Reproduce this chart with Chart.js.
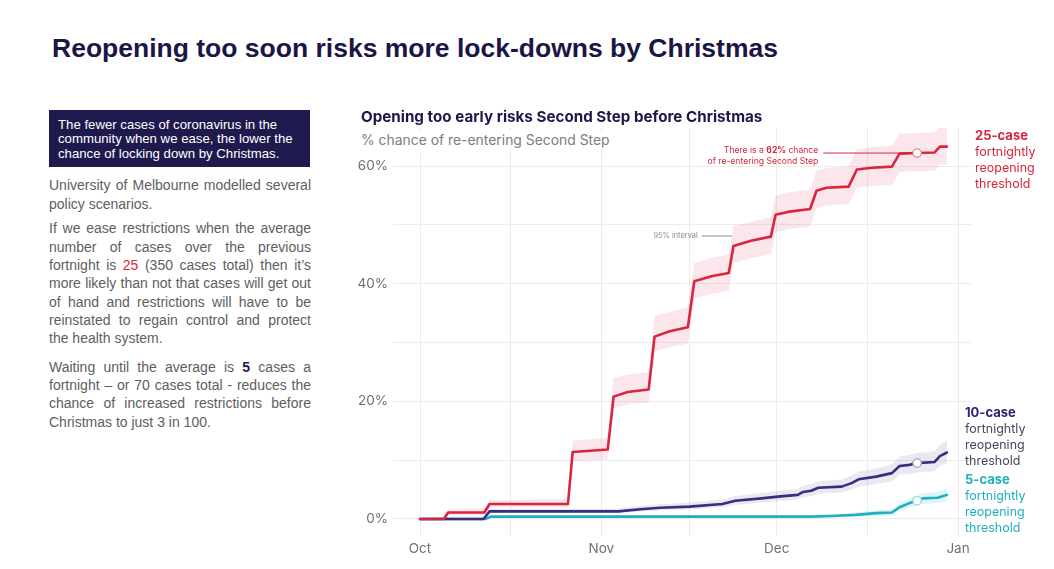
<!DOCTYPE html>
<html>
<head>
<meta charset="utf-8">
<script src="https://cdn.jsdelivr.net/npm/chart.js@4/dist/chart.umd.min.js"></script>
<style>
  html, body { margin:0; padding:0; }
  body { width:1054px; height:569px; background:#fff; position:relative; overflow:hidden; }
  .abs { position:absolute; }
  #title { left:52px; top:33px; font:bold 26.5px 'Liberation Sans', Arial, sans-serif; line-height:30px; color:#1b1646; white-space:nowrap; }
  #box { left:49px; top:110px; width:243px; height:43.5px; padding:7.5px 9px 6px 9px; background:#1f1a4d; color:#fff;
         font:13.2px 'Liberation Sans', Arial, sans-serif; line-height:14.5px; white-space:nowrap; }
  .par { left:49px; width:262px; font:14px 'Liberation Sans', Arial, sans-serif; line-height:18.3px; color:#5e5e5e; }
  .par div { text-align:justify; text-align-last:justify; }
  .par div.last { text-align-last:left; }
  .red { color:#e0203f; }
  .navy { color:#1f1a4d; font-weight:bold; }
  #ctitle { left:361px; top:107.5px; font:bold 15.2px Inter, sans-serif; line-height:18px; color:#1d1848; white-space:nowrap; }
  #csub { left:361px; top:131px; font:13.9px Inter, sans-serif; line-height:18px; color:#7d7d7d; white-space:nowrap; background:#fff; padding-right:4px; }
  .lab { font:12.5px Inter, sans-serif; line-height:16px; white-space:nowrap; }
  .lab b { font-weight:bold; font-size:13px; }
  #c { position:absolute; left:340px; top:100px; }
</style>
</head>
<body>
<div id="title" class="abs">Reopening too soon risks more lock-downs by Christmas</div>
<div id="box" class="abs">The fewer cases of coronavirus in the<br>community when we ease, the lower the<br>chance of locking down by Christmas.</div>

<div class="abs par" style="top:176.4px">
  <div>University of Melbourne modelled several</div>
  <div class="last">policy scenarios.</div>
</div>
<div class="abs par" style="top:219.4px">
  <div>If we ease restrictions when the average</div>
  <div>number of cases over the previous</div>
  <div>fortnight is <span class="red">25</span> (350 cases total) then it’s</div>
  <div>more likely than not that cases will get out</div>
  <div>of hand and restrictions will have to be</div>
  <div>reinstated to regain control and protect</div>
  <div class="last">the health system.</div>
</div>
<div class="abs par" style="top:357.9px">
  <div>Waiting until the average is <span class="navy">5</span> cases a</div>
  <div>fortnight – or 70 cases total - reduces the</div>
  <div>chance of increased restrictions before</div>
  <div class="last">Christmas to just 3 in 100.</div>
</div>

<canvas id="c" width="714" height="469" style="width:714px;height:469px"></canvas>

<div id="ctitle" class="abs">Opening too early risks Second Step before Christmas</div>
<div id="csub" class="abs">% chance of re-entering Second Step</div>

<div class="abs lab" style="left:975px;top:127px;color:#d7263d"><b>25-case</b><br>fortnightly<br>reopening<br>threshold</div>
<div class="abs lab" style="left:965px;top:403.5px;color:#4a4463"><b style="color:#2e2470">10-case</b><br>fortnightly<br>reopening<br>threshold</div>
<div class="abs lab" style="left:965px;top:471px;color:#1fb0c0"><b>5-case</b><br>fortnightly<br>reopening<br>threshold</div>

<script>
// ---- Data (days since 1 Oct, % chance) ----
const xTickDays   = [0, 15.5, 31, 46, 61, 76.5, 92];
const xTickLabels = ['Oct', '', 'Nov', '', 'Dec', '', 'Jan'];
const yTicks      = [0, 10, 20, 30, 40, 50, 60];
const yTickLabels = ['0%', '', '20%', '', '40%', '', '60%'];

const markerDay = 85;

const days25 = [0, 4.1, 4.8, 11.0, 11.9, 25.3, 26.1, 32.1, 33.1, 35.5, 39.1, 40.1, 42.7, 45.8, 46.9, 50.0, 52.8, 53.6, 56.6, 60.0, 60.8, 62.9, 66.7, 67.8, 69.5, 73.3, 74.7, 77.3, 80.7, 82.0, 85, 88.0, 88.9, 90.1];
const case25 = [0, 0, 1.1, 1.1, 2.55, 2.55, 11.4, 11.8, 20.8, 21.6, 22.0, 31.0, 31.9, 32.6, 40.4, 41.3, 41.8, 46.4, 47.3, 48.0, 51.7, 52.2, 52.7, 55.8, 56.3, 56.5, 59.4, 59.7, 59.9, 62.1, 62.2, 62.3, 63.3, 63.3];
const low25  = [0, 0, 0.6, 0.6, 2.0, 2.0, 9.8, 10.1, 18.8, 19.5, 19.8, 28.5, 29.2, 29.8, 37.5, 38.3, 38.8, 43.5, 44.3, 45.0, 48.7, 49.2, 49.7, 52.8, 53.3, 53.5, 56.3, 56.6, 56.8, 59.0, 59.1, 59.2, 60.2, 60.2];
const high25 = [0, 0.3, 1.6, 1.8, 3.2, 3.4, 13.3, 13.8, 24.0, 24.5, 25.0, 34.5, 35.2, 36.0, 43.5, 44.4, 45.0, 49.8, 50.5, 51.3, 55.0, 55.5, 56.0, 59.2, 59.6, 60.0, 62.8, 63.2, 63.5, 65.5, 65.6, 65.8, 66.8, 66.9];

const days10 = [0, 10.85, 11.9, 33.9, 37.7, 41.1, 46.1, 51.7, 53.9, 58.4, 61.2, 64.6, 65.5, 66.9, 68.1, 72.1, 73.8, 75.0, 78.0, 80.7, 82.0, 83.7, 85, 88.0, 88.9, 90.1];
const case10 = [0, 0, 1.3, 1.3, 1.65, 1.9, 2.1, 2.55, 3.1, 3.5, 3.8, 4.1, 4.6, 4.8, 5.3, 5.5, 6.1, 6.75, 7.2, 7.8, 9.0, 9.2, 9.5, 9.7, 10.7, 11.3];
const low10  = [0, 0, 1.0, 1.0, 1.3, 1.5, 1.6, 2.0, 2.4, 2.8, 3.0, 3.3, 3.7, 3.9, 4.3, 4.5, 5.0, 5.5, 5.9, 6.4, 7.5, 7.7, 7.9, 8.1, 9.0, 9.5];
const high10 = [0, 0.2, 1.7, 1.8, 2.2, 2.5, 2.8, 3.3, 3.9, 4.4, 4.7, 5.1, 5.7, 5.9, 6.4, 6.7, 7.4, 8.1, 8.6, 9.3, 10.6, 10.9, 11.2, 11.5, 12.6, 13.3];

const days5 = [0, 11.2, 12.1, 66.9, 70.4, 74.5, 78.0, 80.7, 82.0, 83.7, 85, 86.0, 88.5, 90.1];
const case5 = [0, 0, 0.4, 0.4, 0.5, 0.7, 1.0, 1.1, 2.0, 2.7, 3.1, 3.5, 3.6, 4.1];
const low5  = [0, 0, 0.2, 0.2, 0.3, 0.4, 0.6, 0.7, 1.4, 2.0, 2.3, 2.6, 2.7, 3.1];
const high5 = [0, 0.1, 0.6, 0.7, 0.8, 1.1, 1.5, 1.6, 2.7, 3.5, 3.9, 4.4, 4.6, 5.2];

// annotation anchors (data coordinates)
const noteDay = 68.1;              // right end of the "62% chance" note
const intervalAnchor = {x: 53.3, y: 48.1};

// ---- Styles ----
const RED = '#d7263d', NAVY = '#3a2c80', TEAL = '#1fb0c0';

function pts(days, vals) { return days.map((d, i) => ({x: d, y: vals[i]})); }
function band(days, lo, hi, color) {
  return [
    {data: pts(days, lo), borderWidth: 0, pointRadius: 0, fill: false, order: 5},
    {data: pts(days, hi), borderWidth: 0, pointRadius: 0, fill: '-1', backgroundColor: color, order: 5}
  ];
}
function line(days, vals, color, mcolor, order) {
  return {
    data: pts(days, vals), borderColor: color, borderWidth: 2.6, fill: false, order: order,
    borderJoinStyle: 'round', borderCapStyle: 'round', tension: 0,
    pointRadius: c => (c.raw && c.raw.x === markerDay) ? 4.2 : 0,
    pointBackgroundColor: '#fff', pointBorderColor: mcolor, pointBorderWidth: 1.3
  };
}

const annoPlugin = {
  id: 'anno',
  afterDatasetsDraw(chart) {
    const {ctx, scales: {x, y}} = chart;
    const mi = days25.indexOf(markerDay);
    const mx = x.getPixelForValue(markerDay), my = y.getPixelForValue(case25[mi]);
    const tx = x.getPixelForValue(noteDay);
    ctx.save();
    ctx.strokeStyle = RED; ctx.lineWidth = 1;
    ctx.beginPath(); ctx.moveTo(tx + 5, my); ctx.lineTo(mx - 4.5, my); ctx.stroke();
    ctx.fillStyle = RED; ctx.textBaseline = 'middle'; ctx.textAlign = 'left';
    const reg = '8.6px Inter, sans-serif', bold = 'bold 8.6px Inter, sans-serif';
    const parts = [['There is a ', reg], [Math.round(case25[mi]) + '%', bold], [' chance', reg]];
    let w = 0;
    parts.forEach(p => { ctx.font = p[1]; w += ctx.measureText(p[0]).width; });
    let cx = tx - w;
    parts.forEach(p => { ctx.font = p[1]; ctx.fillText(p[0], cx, my - 2.5); cx += ctx.measureText(p[0]).width; });
    ctx.font = reg; ctx.textAlign = 'right';
    ctx.fillText('of re-entering Second Step', tx, my + 8.5);

    const ax = x.getPixelForValue(intervalAnchor.x), ay = y.getPixelForValue(intervalAnchor.y);
    ctx.strokeStyle = '#8c8c8c'; ctx.lineWidth = 1;
    ctx.beginPath(); ctx.moveTo(ax - 30, ay); ctx.lineTo(ax, ay); ctx.stroke();
    ctx.fillStyle = '#8c8c8c'; ctx.font = '7.4px Inter, sans-serif'; ctx.textAlign = 'right';
    ctx.fillText('95% interval', ax - 34, ay);
    ctx.restore();
  }
};

new Chart(document.getElementById('c'), {
  type: 'line',
  data: {
    datasets: [
      line(days25, case25, RED, '#e58a9a', 0),
      line(days10, case10, NAVY, '#a8a2c4', 1),
      line(days5, case5, TEAL, '#9fdbe3', 2),
      ...band(days25, low25, high25, 'rgba(232,100,130,0.16)'),
      ...band(days10, low10, high10, 'rgba(90,80,150,0.13)'),
      ...band(days5, low5, high5, 'rgba(31,176,192,0.15)')
    ]
  },
  options: {
    responsive: false,
    animation: false,
    events: [],
    layout: {padding: {top: 28, right: 82, bottom: 0, left: 0}},
    plugins: {legend: {display: false}, tooltip: {enabled: false}, title: {display: false}},
    scales: {
      x: {
        type: 'linear', min: -4.62, max: 94.39,
        afterBuildTicks: s => { s.ticks = xTickDays.map(v => ({value: v})); },
        afterFit: s => { s.height = 33; },
        ticks: {callback: (v, i) => xTickLabels[i], color: '#707070', font: {family: 'Inter', size: 13.5},
                padding: 5, maxRotation: 0, autoSkip: false},
        grid: {color: '#ececec', lineWidth: 1, drawTicks: false},
        border: {display: false}
      },
      y: {
        type: 'linear', min: -2.89, max: 66.46,
        afterBuildTicks: s => { s.ticks = yTicks.map(v => ({value: v})); },
        afterFit: s => { s.width = 53; },
        ticks: {callback: (v, i) => yTickLabels[i], color: '#707070', font: {family: 'Inter', size: 13.5},
                padding: 5, autoSkip: false},
        grid: {color: '#ececec', lineWidth: 1, drawTicks: false},
        border: {display: false}
      }
    }
  },
  plugins: [annoPlugin]
});
</script>
</body>
</html>
